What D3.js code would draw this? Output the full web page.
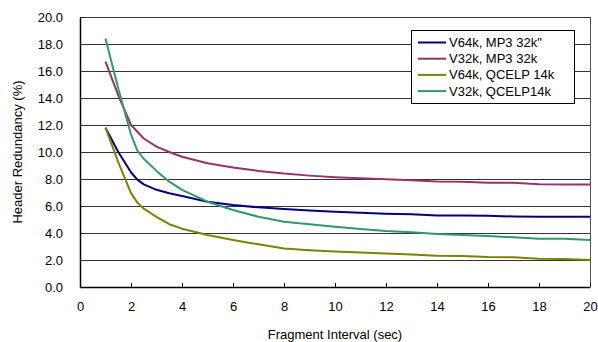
<!DOCTYPE html>
<html>
<head>
<meta charset="utf-8">
<script src="https://cdn.jsdelivr.net/npm/d3@7"></script>
<style>
  body { margin: 0; background: #fff; }
  svg { display: block; font-family: Arial, "Liberation Sans", sans-serif; }
</style>
</head>
<body>
<svg id="chart" width="598" height="342"></svg>
<script>
// fragment interval (sec)
const xs = [1, 1.5, 2, 2.25, 2.5, 3, 3.5, 4, 5, 6, 7, 8, 9, 10, 11, 12, 13, 14, 15, 16, 17, 18, 19, 20]

const v64mp3 = [11.8, 10.0, 8.5, 7.95, 7.6, 7.2, 6.95, 6.74, 6.32, 6.07, 5.9, 5.77, 5.67, 5.58, 5.5, 5.42, 5.38, 5.3, 5.3, 5.28, 5.22, 5.2, 5.2, 5.2]
const v32mp3 = [16.7, 14.2, 12.0, 11.5, 11.0, 10.4, 10.0, 9.65, 9.16, 8.86, 8.6, 8.4, 8.25, 8.13, 8.05, 7.98, 7.9, 7.82, 7.8, 7.73, 7.72, 7.62, 7.6, 7.6]
const v64qcelp = [11.8, 9.25, 6.95, 6.25, 5.8, 5.2, 4.65, 4.32, 3.85, 3.48, 3.16, 2.85, 2.72, 2.63, 2.56, 2.48, 2.4, 2.32, 2.3, 2.22, 2.2, 2.1, 2.07, 2.0]
const v32qcelp = [18.4, 14.7, 11.3, 10.1, 9.5, 8.6, 7.8, 7.2, 6.32, 5.7, 5.2, 4.84, 4.65, 4.47, 4.3, 4.15, 4.05, 3.93, 3.85, 3.78, 3.68, 3.58, 3.57, 3.48]

const seriesNames = ['V64k, MP3 32k"', 'V32k, MP3 32k', 'V64k, QCELP 14k', 'V32k, QCELP14k']
const seriesColors = ['#000080', '#993366', '#808000', '#339966']
const seriesValues = [v64mp3, v32mp3, v64qcelp, v32qcelp]

const xTicks = [0, 2, 4, 6, 8, 10, 12, 14, 16, 18, 20]
const yTicks = [0, 2, 4, 6, 8, 10, 12, 14, 16, 18, 20]

const svg = d3.select('#chart')
const plotLeft = 80, plotRight = 590, plotTop = 17, plotBottom = 287

const x = d3.scaleLinear().domain([0, 20]).range([plotLeft, plotRight])
const y = d3.scaleLinear().domain([0, 20]).range([plotBottom, plotTop])

// gridlines
svg.append('g')
  .selectAll('line')
  .data(yTicks.filter(d => d > 0))
  .join('line')
  .attr('x1', plotLeft).attr('x2', plotRight)
  .attr('y1', d => Math.round(y(d)) + 0.5).attr('y2', d => Math.round(y(d)) + 0.5)
  .attr('stroke', '#333')
  .attr('stroke-width', 1)

// right border
svg.append('line')
  .attr('x1', plotRight + 0.5).attr('x2', plotRight + 0.5)
  .attr('y1', plotTop).attr('y2', plotBottom)
  .attr('stroke', '#555')

// y axis
const yAxis = svg.append('g')
  .attr('transform', `translate(${plotLeft},0)`)
  .call(d3.axisLeft(y).tickValues(yTicks).tickFormat(d3.format('.1f')).tickSize(0).tickPadding(17))
yAxis.select('.domain').attr('stroke', '#000').attr('stroke-width', 1.5)
yAxis.selectAll('text').style('font-size', '13px').attr('fill', '#000')

// x axis
const xAxis = svg.append('g')
  .attr('transform', `translate(0,${plotBottom})`)
  .call(d3.axisBottom(x).tickValues(xTicks).tickSizeInner(-4).tickSizeOuter(0).tickPadding(15))
xAxis.select('.domain').attr('stroke', '#000').attr('stroke-width', 1.5)
xAxis.selectAll('.tick line').attr('stroke', '#000')
xAxis.selectAll('text').style('font-size', '13px').attr('fill', '#000')

// lines
const line = d3.line()
  .x((d, i) => x(xs[i]))
  .y(d => y(d))

svg.append('g')
  .selectAll('path')
  .data(seriesValues)
  .join('path')
  .attr('fill', 'none')
  .attr('stroke', (d, i) => seriesColors[i])
  .attr('stroke-width', 2)
  .attr('stroke-linejoin', 'round')
  .attr('d', line)

// axis titles
svg.append('text')
  .attr('x', 335).attr('y', 339)
  .attr('text-anchor', 'middle')
  .style('font-size', '13px')
  .text('Fragment Interval (sec)')

svg.append('text')
  .attr('transform', 'translate(22,152) rotate(-90)')
  .attr('text-anchor', 'middle')
  .style('font-size', '13px')
  .text('Header Redundancy (%)')

// legend
const legend = svg.append('g')
legend.append('rect')
  .attr('x', 411.5).attr('y', 30.5)
  .attr('width', 163).attr('height', 73)
  .attr('fill', '#fff').attr('stroke', '#000')

const rows = legend.selectAll('g.row')
  .data(seriesNames)
  .join('g')
  .attr('class', 'row')
  .attr('transform', (d, i) => `translate(0,${42.5 + i * 16.2})`)

rows.append('line')
  .attr('x1', 418).attr('x2', 446)
  .attr('stroke', (d, i) => seriesColors[i])
  .attr('stroke-width', 2)

rows.append('text')
  .attr('x', 449).attr('dy', '0.35em')
  .style('font-size', '13px')
  .text(d => d)
</script>
</body>
</html>
